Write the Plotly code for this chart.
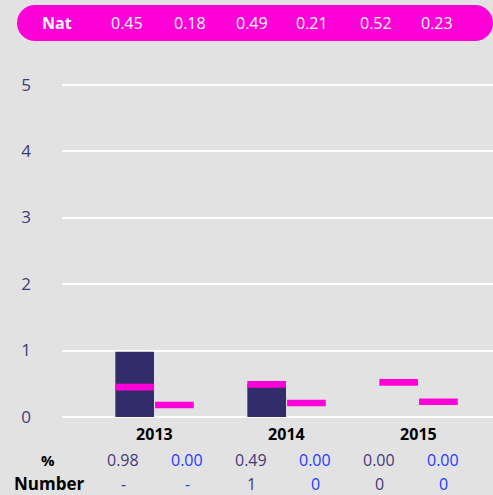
import plotly.graph_objects as go

# data
years = ["2013", "2014", "2015"]
pct_main = [0.98, 0.49, 0.00]
pct_other = [0.00, 0.00, 0.00]
nat_main = [0.45, 0.49, 0.52]
nat_other = [0.18, 0.21, 0.23]
num_main = ["-", "1", "0"]
num_other = ["-", "0", "0"]
y_ticks = [0, 1, 2, 3, 4, 5]

BG = "#e2e2e2"
DARK = "#322c6b"
PINK = "#ff00d8"
BLUE = "#1f3cff"
TICK = "#3f3a7c"
FONT = "Open Sans, Noto Sans, sans-serif"

W, H = 493, 495
ML, MR, MT, MB = 62, 0, 50, 78
PW, PH = W - ML - MR, H - MT - MB


def px_x(x):
    return (x - ML) / PW


def px_y(y):
    return (H - MB - y) / PH


BW = 0.293
MARK = 0.1

fig = go.Figure()
fig.add_trace(go.Bar(x=years, y=pct_main, marker_color=DARK, width=BW, offset=-BW - 0.003,
                     marker_line_width=0, showlegend=False))
fig.add_trace(go.Bar(x=years, y=pct_other, marker_color=BLUE, width=BW, offset=0.005,
                     marker_line_width=0, showlegend=False))
fig.add_trace(go.Bar(x=years, y=[MARK] * 3, base=[v - MARK / 2 for v in nat_main],
                     marker_color=PINK, width=BW, offset=-BW - 0.003,
                     marker_line_width=0, showlegend=False))
fig.add_trace(go.Bar(x=years, y=[MARK] * 3, base=[v - MARK / 2 for v in nat_other],
                     marker_color=PINK, width=BW, offset=0.005,
                     marker_line_width=0, showlegend=False))

shapes = []
# pink pill banner
r = 18
yc = 23
shapes.append(dict(type="rect", xref="paper", yref="paper", x0=px_x(17 + r), x1=px_x(493 - r),
                   y0=px_y(yc + r), y1=px_y(yc - r), fillcolor=PINK, line_width=0, layer="above"))
for cx in (17 + r, 493 - r):
    shapes.append(dict(type="circle", xref="paper", yref="paper", x0=px_x(cx - r), x1=px_x(cx + r),
                       y0=px_y(yc + r), y1=px_y(yc - r), fillcolor=PINK, line_width=0, layer="above"))

ann = []
ann.append(dict(x=px_x(57), y=px_y(yc), text="<b>Nat</b>", font=dict(size=16, color="white")))
nat_x = [127, 190, 252, 312, 376, 437]
nat_vals = [v for pair in zip(nat_main, nat_other) for v in pair]
for xp, v in zip(nat_x, nat_vals):
    ann.append(dict(x=px_x(xp), y=px_y(yc), text=f"{v:.2f}", font=dict(size=16, color="white")))

col_x = [123, 187, 251, 315, 379, 443]
pct_vals = [v for pair in zip(pct_main, pct_other) for v in pair]
num_vals = [v for pair in zip(num_main, num_other) for v in pair]
for i, xp in enumerate(col_x):
    c = TICK if i % 2 == 0 else BLUE
    ann.append(dict(x=px_x(xp), y=px_y(460), text=f"{pct_vals[i]:.2f}", font=dict(size=16, color=c)))
    ann.append(dict(x=px_x(xp), y=px_y(484), text=num_vals[i], font=dict(size=16, color=c)))
ann.append(dict(x=px_x(48), y=px_y(460), text="<b>%</b>", font=dict(size=15, color="black")))
ann.append(dict(x=px_x(49), y=px_y(484), text="<b>Number</b>", font=dict(size=17, color="black")))
for a in ann:
    a.update(xref="paper", yref="paper", showarrow=False, xanchor="center", yanchor="middle")

fig.update_layout(
    width=W, height=H,
    margin=dict(l=ML, r=MR, t=MT, b=MB),
    paper_bgcolor=BG, plot_bgcolor=BG,
    font=dict(family=FONT),
    barmode="overlay",
    shapes=shapes,
    annotations=ann,
    xaxis=dict(range=[-0.70, 2.565], tickvals=[0, 1, 2],
               ticktext=[f"<b>{y}</b>" for y in years],
               tickfont=dict(size=16, color="black"), showgrid=False, zeroline=False,
               ticks="", ticklabelstandoff=6, fixedrange=True),
    yaxis=dict(range=[0, 5.52], tickvals=y_ticks, gridcolor="white", gridwidth=2,
               zeroline=True, zerolinecolor="white", zerolinewidth=2,
               tickfont=dict(size=17, color=TICK), ticks="", ticklabelstandoff=30,
               fixedrange=True),
)

fig.write_html("out.html", config={"displayModeBar": False},
               post_script="document.body.style.margin='0';document.body.style.overflow='hidden';")
